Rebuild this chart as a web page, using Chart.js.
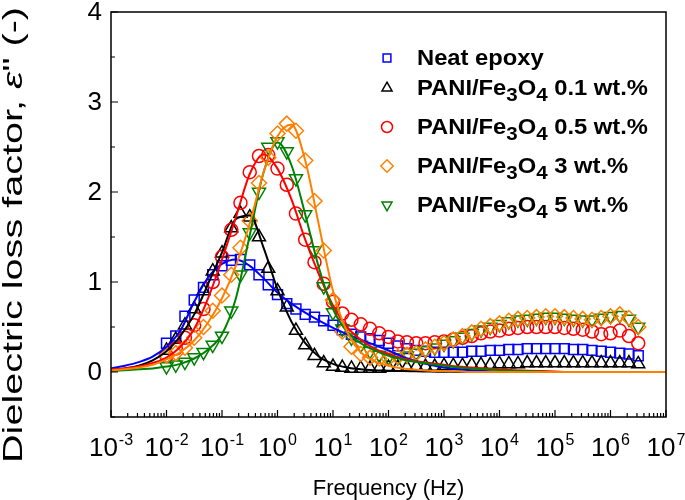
<!DOCTYPE html>
<html>
<head>
<meta charset="utf-8">
<script src="https://cdn.jsdelivr.net/npm/chart.js@4.4.1/dist/chart.umd.min.js"></script>
<style>
  html, body { margin: 0; padding: 0; background: #fff; }
  #wrap { width: 685px; height: 500px; }
</style>
</head>
<body>
<div id="wrap"><canvas id="chart" width="685" height="500"></canvas></div>
<script>
// measured frequencies (Hz), 6 points per decade
const freq = [
  0.01, 0.0147, 0.0215, 0.0316, 0.0464, 0.0681,
  0.1, 0.147, 0.215, 0.316, 0.464, 0.681,
  1, 1.47, 2.15, 3.16, 4.64, 6.81,
  10, 14.7, 21.5, 31.6, 46.4, 68.1,
  100, 147, 215, 316, 464, 681,
  1000, 1470, 2150, 3160, 4640, 6810,
  1e4, 1.47e4, 2.15e4, 3.16e4, 4.64e4, 6.81e4,
  1e5, 1.47e5, 2.15e5, 3.16e5, 4.64e5, 6.81e5,
  1e6, 1.47e6, 2.15e6, 3.16e6
];

// loss factor
const neatEpoxy = [
  0.32, 0.40, 0.62, 0.80, 0.94, 1.08, 1.18, 1.24, 1.25, 1.19, 1.08, 0.97,
  0.86, 0.76, 0.70, 0.64, 0.61, 0.57, 0.52, 0.47, 0.42, 0.39, 0.37, 0.35,
  0.32, 0.29, 0.26, 0.24, 0.23, 0.22, 0.22, 0.22, 0.22, 0.23, 0.23, 0.24,
  0.24, 0.25, 0.25, 0.26, 0.26, 0.26, 0.26, 0.26, 0.25, 0.25, 0.24, 0.23,
  0.22, 0.21, 0.20, 0.18
];
const pani01 = [
  0.24, 0.36, 0.52, 0.70, 0.90, 1.12, 1.32, 1.60, 1.76, 1.72, 1.50, 1.15,
  0.90, 0.72, 0.46, 0.30, 0.18, 0.10, 0.06, 0.05, 0.04, 0.04, 0.04, 0.04,
  0.05, 0.05, 0.05, 0.06, 0.06, 0.06, 0.07, 0.07, 0.07, 0.08, 0.08, 0.08,
  0.09, 0.09, 0.09, 0.10, 0.10, 0.10, 0.10, 0.10, 0.10, 0.10, 0.10, 0.10,
  0.10, 0.10, 0.10, 0.09
];
const pani05 = [
  0.18, 0.26, 0.38, 0.52, 0.70, 1.00, 1.28, 1.58, 1.88, 2.22, 2.40, 2.41,
  2.26, 2.08, 1.76, 1.47, 1.22, 0.98, 0.78, 0.65, 0.58, 0.53, 0.48, 0.43,
  0.39, 0.34, 0.33, 0.32, 0.32, 0.33, 0.34, 0.36, 0.38, 0.40, 0.43, 0.45,
  0.46, 0.48, 0.49, 0.50, 0.50, 0.50, 0.50, 0.49, 0.48, 0.47, 0.45, 0.42,
  0.43, 0.46, 0.40, 0.32
];
const pani3 = [
  0.18, 0.21, 0.27, 0.38, 0.50, 0.68, 0.85, 1.08, 1.38, 1.68, 2.10, 2.38,
  2.65, 2.76, 2.68, 2.35, 1.90, 1.35, 0.80, 0.45, 0.28, 0.20, 0.16, 0.15,
  0.15, 0.17, 0.19, 0.21, 0.25, 0.28, 0.32, 0.36, 0.40, 0.44, 0.48, 0.51,
  0.54, 0.57, 0.59, 0.60, 0.61, 0.62, 0.62, 0.61, 0.60, 0.59, 0.58, 0.60,
  0.62, 0.64, 0.60, 0.50
];
const pani5 = [
  0.06, 0.08, 0.11, 0.16, 0.22, 0.30, 0.40, 0.68, 1.08, 1.55, 2.00, 2.50,
  2.56, 2.45, 2.15, 1.75, 1.35, 0.95, 0.66, 0.48, 0.38, 0.30, 0.23, 0.19,
  0.16, 0.16, 0.18, 0.21, 0.24, 0.27, 0.31, 0.35, 0.39, 0.43, 0.47, 0.50,
  0.53, 0.56, 0.58, 0.59, 0.60, 0.61, 0.61, 0.60, 0.59, 0.58, 0.58, 0.60,
  0.62, 0.63, 0.59, 0.50
];

// fitted curves at 4 points per decade
const fitFreq = [
  1e-3, 1.78e-3, 3.16e-3, 5.62e-3, 1e-2, 1.78e-2, 3.16e-2, 5.62e-2,
  0.1, 0.178, 0.316, 0.562, 1, 1.78, 3.16, 5.62, 10, 17.8, 31.6, 56.2,
  100, 178, 316, 562, 1e3, 1.78e3, 3.16e3, 5.62e3, 1e4, 1.78e4, 3.16e4, 5.62e4,
  1e5, 1.78e5, 3.16e5, 5.62e5, 1e6, 1.78e6, 3.16e6, 5.62e6, 1e7
];
const fitNeat = [
  0.04, 0.07, 0.11, 0.17, 0.28, 0.46, 0.78, 1.05, 1.20, 1.25, 1.18, 1.04,
  0.88, 0.76, 0.66, 0.57, 0.49, 0.42, 0.36, 0.30, 0.24, 0.17, 0.12, 0.08,
  0.05, 0.03, 0.02, 0.01, 0.005, 0, 0, 0, 0, 0, 0, 0, 0, 0, 0, 0, 0
];
const fit01 = [
  0.02, 0.04, 0.07, 0.13, 0.23, 0.40, 0.64, 0.98, 1.33, 1.70, 1.74, 1.38,
  0.92, 0.56, 0.32, 0.17, 0.09, 0.05, 0.03, 0.02, 0.015, 0.01, 0.008, 0.005,
  0.003, 0, 0, 0, 0, 0, 0, 0, 0, 0, 0, 0, 0, 0, 0, 0, 0
];
const fit05 = [
  0.03, 0.04, 0.06, 0.10, 0.16, 0.28, 0.48, 0.82, 1.25, 1.72, 2.20, 2.42,
  2.26, 1.92, 1.47, 1.08, 0.74, 0.50, 0.36, 0.26, 0.20, 0.15, 0.12, 0.10,
  0.08, 0.06, 0.05, 0.04, 0.03, 0.02, 0.015, 0.01, 0.005, 0, 0, 0, 0, 0, 0, 0, 0
];
const fit3 = [
  0.02, 0.03, 0.05, 0.08, 0.14, 0.22, 0.35, 0.55, 0.82, 1.18, 1.65, 2.22,
  2.62, 2.75, 2.35, 1.62, 0.90, 0.45, 0.22, 0.12, 0.07, 0.04, 0.025, 0.015,
  0.01, 0.005, 0, 0, 0, 0, 0, 0, 0, 0, 0, 0, 0, 0, 0, 0, 0
];
const fit5 = [
  0.01, 0.02, 0.03, 0.04, 0.06, 0.09, 0.15, 0.25, 0.42, 0.82, 1.52, 2.22,
  2.55, 2.30, 1.75, 1.15, 0.70, 0.45, 0.32, 0.24, 0.18, 0.14, 0.11, 0.09,
  0.07, 0.05, 0.04, 0.03, 0.02, 0.015, 0.01, 0.005, 0, 0, 0, 0, 0, 0, 0, 0, 0
];

const seriesNames = [
  "Neat epoxy",
  "PANI/Fe_3O_4 0.1 wt.%",
  "PANI/Fe_3O_4 0.5 wt.%",
  "PANI/Fe_3O_4 3 wt.%",
  "PANI/Fe_3O_4 5 wt.%"
];
const xTickExps = [-3, -2, -1, 0, 1, 2, 3, 4, 5, 6, 7];
const yTickLabels = [0, 1, 2, 3, 4];

const FONT = '"Liberation Sans", Arial, Helvetica, sans-serif';
const colors = ["#0000ff", "#000000", "#ff0000", "#ff8000", "#008000"];
const styles = [
  { pointStyle: "rect", radius: 7, rotation: 0, legendR: 5.5 },
  { pointStyle: "triangle", radius: 7.5, rotation: 0, legendR: 5.8 },
  { pointStyle: "circle", radius: 6.5, rotation: 0, legendR: 5.5 },
  { pointStyle: "rectRot", radius: 7.5, rotation: 0, legendR: 6.2 },
  { pointStyle: "triangle", radius: 7.5, rotation: 180, legendR: 5.8 }
];
const markerData = [neatEpoxy, pani01, pani05, pani3, pani5];
const fitData = [fitNeat, fit01, fit05, fit3, fit5];
// draw order: orange on top, then green, red, black, blue
const stack = [5, 4, 3, 1, 2];

const pts = (xs, ys) => xs.map((x, i) => ({ x: x, y: ys[i] }));

const datasets = [];
markerData.forEach((ys, i) => {
  datasets.push({
    label: seriesNames[i],
    data: pts(freq, ys),
    showLine: false,
    pointStyle: styles[i].pointStyle,
    pointRadius: styles[i].radius,
    pointRotation: styles[i].rotation,
    pointBorderWidth: 1.5,
    borderColor: colors[i],
    pointBorderColor: colors[i],
    pointBackgroundColor: "rgba(0,0,0,0)",
    order: 20 + stack[i]
  });
});
fitData.forEach((ys, i) => {
  datasets.push({
    label: seriesNames[i] + " fit",
    data: pts(fitFreq, ys),
    showLine: true,
    pointRadius: 0,
    borderColor: colors[i],
    borderWidth: 2,
    cubicInterpolationMode: "monotone",
    order: 10 + stack[i]
  });
});

function richParts(text) {
  const parts = [];
  let buf = "";
  for (let i = 0; i < text.length; i++) {
    if (text[i] === "_") {
      if (buf) parts.push({ t: buf, sub: false });
      buf = "";
      parts.push({ t: text[i + 1], sub: true });
      i++;
    } else {
      buf += text[i];
    }
  }
  if (buf) parts.push({ t: buf, sub: false });
  return parts;
}

const decorations = {
  id: "decorations",
  afterDraw(chart) {
    const ctx = chart.ctx;
    const a = chart.chartArea;
    const xs = chart.scales.x, ys = chart.scales.y;
    ctx.save();
    ctx.strokeStyle = "#000";
    ctx.fillStyle = "#000";
    ctx.lineWidth = 1.5;

    // frame
    ctx.beginPath();
    ctx.rect(a.left, a.top, a.right - a.left, a.bottom - a.top);
    ctx.stroke();

    // x ticks (inward) with minor ticks
    ctx.lineWidth = 1.2;
    ctx.beginPath();
    xTickExps.forEach(e => {
      const base = Math.pow(10, e);
      const px = xs.getPixelForValue(base);
      ctx.moveTo(px, a.bottom);
      ctx.lineTo(px, a.bottom - 7);
      if (e < 7) {
        for (let m = 2; m <= 9; m++) {
          const mx = xs.getPixelForValue(m * base);
          ctx.moveTo(mx, a.bottom);
          ctx.lineTo(mx, a.bottom - 4);
        }
      }
    });
    // y ticks
    for (let v = -0.5; v <= 4.001; v += 0.5) {
      const py = ys.getPixelForValue(v);
      const len = Math.abs(v - Math.round(v)) < 1e-6 ? 7 : 4;
      ctx.moveTo(a.left, py);
      ctx.lineTo(a.left + len, py);
    }
    ctx.stroke();

    // y tick labels
    ctx.font = "26px " + FONT;
    ctx.textAlign = "right";
    ctx.textBaseline = "middle";
    yTickLabels.forEach(v => {
      ctx.fillText(String(v), a.left - 9, ys.getPixelForValue(v) + 1);
    });

    // x tick labels: 10 with superscript exponent
    ctx.textBaseline = "alphabetic";
    ctx.textAlign = "left";
    xTickExps.forEach(e => {
      const px = xs.getPixelForValue(Math.pow(10, e));
      ctx.font = "26px " + FONT;
      const wb = ctx.measureText("10").width;
      ctx.font = "16px " + FONT;
      const es = String(e);
      const we = ctx.measureText(es).width;
      const x0 = px - (wb + we + 1) / 2;
      ctx.font = "26px " + FONT;
      ctx.fillText("10", x0, 456);
      ctx.font = "16px " + FONT;
      ctx.fillText(es, x0 + wb + 1, 445);
    });

    // x title
    ctx.font = "22px " + FONT;
    ctx.textAlign = "center";
    ctx.fillText("Frequency (Hz)", (a.left + a.right) / 2, 495);

    // y title, rotated, stretched along its length
    const tparts = [
      { t: "Dielectric loss factor, ", f: "28px " + FONT },
      { t: "\u03b5", f: "italic 28px " + FONT },
      { t: "\" (-)", f: "28px " + FONT }
    ];
    ctx.textAlign = "left";
    let tw = 0;
    tparts.forEach(p => { ctx.font = p.f; tw += ctx.measureText(p.t).width; });
    ctx.save();
    ctx.translate(22, 463);
    ctx.rotate(-Math.PI / 2);
    ctx.scale(456 / tw, 1);
    let cx = 0;
    tparts.forEach(p => {
      ctx.font = p.f;
      ctx.fillText(p.t, cx, 0);
      cx += ctx.measureText(p.t).width;
    });
    ctx.restore();

    // legend
    const legendY = [58, 88, 127, 166, 205];
    seriesNames.forEach((name, i) => {
      const my = legendY[i];
      ctx.strokeStyle = colors[i];
      ctx.fillStyle = "rgba(0,0,0,0)";
      ctx.lineWidth = 1.5;
      Chart.helpers.drawPoint(ctx, {
        pointStyle: styles[i].pointStyle,
        radius: styles[i].legendR,
        rotation: styles[i].rotation,
        borderWidth: 1.5
      }, 387, my);
      ctx.fillStyle = "#000";
      ctx.save();
      ctx.textAlign = "left";
      ctx.textBaseline = "alphabetic";
      ctx.translate(417, my + 7);
      ctx.scale(1.08, 1);
      let lx = 0;
      richParts(name).forEach(p => {
        ctx.font = (p.sub ? "bold 19px " : "bold 22px ") + FONT;
        ctx.fillText(p.t, lx, p.sub ? 6 : 0);
        lx += ctx.measureText(p.t).width;
      });
      ctx.restore();
    });
    ctx.restore();
  }
};

new Chart(document.getElementById("chart"), {
  type: "scatter",
  data: { datasets: datasets },
  options: {
    responsive: false,
    animation: false,
    events: [],
    layout: { padding: { left: 0, right: 19, top: 12, bottom: 0 } },
    scales: {
      x: {
        type: "logarithmic",
        min: 1e-3,
        max: 1e7,
        grid: { display: false },
        border: { display: false },
        ticks: { display: false },
        afterFit: s => { s.height = 83; }
      },
      y: {
        type: "linear",
        min: -0.5,
        max: 4,
        grid: { display: false },
        border: { display: false },
        ticks: { display: false },
        afterFit: s => { s.width = 111; }
      }
    },
    plugins: {
      legend: { display: false },
      tooltip: { enabled: false }
    }
  },
  plugins: [decorations]
});
</script>
</body>
</html>
